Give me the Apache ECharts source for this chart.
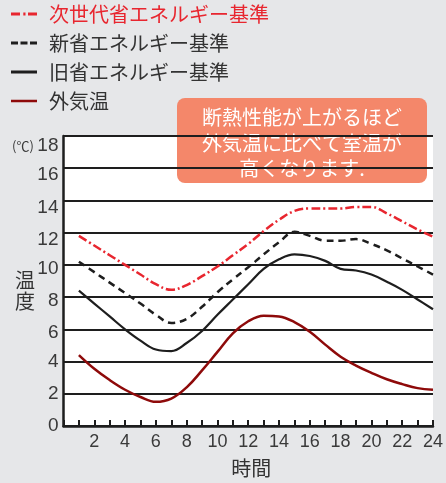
<!DOCTYPE html>
<html><head><meta charset="utf-8">
<script src="https://cdn.jsdelivr.net/npm/echarts@6/dist/echarts.min.js"></script>
<style>html,body{margin:0;padding:0;background:#e6e7e9;}#c{width:446px;height:483px;}</style>
</head><body><div id="c"></div>
<script>
const hours = [1,2,3,4,5,6,7,8,9,10,11,12,13,14,15,16,17,18,19,20,21,22,23,24];
const nextGen = [11.8,11.2,10.6,10.0,9.4,8.8,8.45,8.75,9.3,9.9,10.6,11.3,12.1,12.8,13.35,13.5,13.5,13.5,13.6,13.6,13.2,12.7,12.2,11.75];
const newStd  = [10.2,9.55,8.9,8.25,7.6,6.9,6.4,6.65,7.4,8.3,9.1,9.85,10.65,11.4,12.05,11.8,11.5,11.5,11.6,11.3,10.9,10.4,9.9,9.4];
const oldStd  = [8.4,7.6,6.8,6.0,5.3,4.75,4.65,5.15,5.9,6.9,7.85,8.8,9.75,10.35,10.65,10.55,10.25,9.75,9.65,9.4,8.95,8.45,7.85,7.25];
const outside = [4.4,3.55,2.85,2.25,1.8,1.5,1.7,2.4,3.45,4.6,5.75,6.5,6.85,6.8,6.45,5.85,5.05,4.3,3.75,3.3,2.9,2.6,2.35,2.25];
const seriesNames = ['次世代省エネルギー基準','新省エネルギー基準','旧省エネルギー基準','外気温'];
const yTicks = [0,2,4,6,8,10,12,14,16,18];
const xTicks = [2,4,6,8,10,12,14,16,18,20,22,24];
const note = ['断熱性能が上がるほど','外気温に比べて室温が','高くなります.'];

const FONT = '"Noto Sans CJK JP", "Liberation Sans", sans-serif';
const RED = '#e8262f', DARKRED = '#8e0a0a', BLK = '#1e1e1e';
const yOff = {0:0,2:0,4:0,6:3,8:4,10:4,12:7,14:7,16:7,18:10};
const rich = {};
yTicks.forEach(v => { rich['a'+v] = {fontSize:19, fontFamily:'"Liberation Sans", sans-serif', color:'#3a3a3a', padding:[2*yOff[v],0,0,0]}; });

// legend icons: 26x20 bounding box (tiny corner anchors), bar of 3px in the middle
const frame = 'M0,0h0.05v0.05h-0.05z M25.95,19.95h0.05v0.05h-0.05z ';
const iconDashDot = 'path://' + frame + 'M0,8.5h9v3h-9z M12.3,8.5h2.2v3h-2.2z M17,8.5h9v3h-9z';
const iconDash = 'path://' + frame + 'M0,8.5h7v3h-7z M9.5,8.5h7v3h-7z M19,8.5h7v3h-7z';
const iconSolid = 'path://' + frame + 'M0,8.5h26v3h-26z';
const iconSolidThin = 'path://' + frame + 'M0,8.7h26v2.6h-26z';

const toPairs = arr => hours.map((h,i)=>[h, arr[i]]);
const chart = echarts.init(document.getElementById('c'), null, {renderer:'canvas'});
chart.setOption({
  backgroundColor:'#e6e7e9',
  animation:false,
  textStyle:{fontFamily:FONT},
  legend:{
    orient:'vertical', left:11, top:4, padding:0, itemWidth:26, itemHeight:20, itemGap:9,
    textStyle:{fontSize:20, color:'#333', padding:[0,0,0,7], fontFamily:FONT, lineHeight:20},
    data:[
      {name:seriesNames[0], icon:iconDashDot, textStyle:{color:RED}},
      {name:seriesNames[1], icon:iconDash},
      {name:seriesNames[2], icon:iconSolid},
      {name:seriesNames[3], icon:iconSolidThin}
    ]
  },
  grid:{left:63.5, right:12, top:136, bottom:53.7, show:true, backgroundColor:'#ffffff', borderWidth:0, containLabel:false},
  xAxis:{
    type:'value', min:0, max:24, interval:1,
    name:'時間', nameLocation:'middle', nameGap:32,
    nameTextStyle:{fontSize:20, color:'#333', padding:[0,0,0,6], fontFamily:FONT},
    axisLine:{show:true, lineStyle:{color:BLK, width:2.5}},
    axisTick:{show:true, inside:true, length:6, lineStyle:{color:BLK, width:2}},
    axisLabel:{fontSize:18, color:'#3a3a3a', margin:7, fontFamily:'"Liberation Sans", sans-serif',
      formatter: v => xTicks.indexOf(v) >= 0 ? String(v) : ''},
    splitLine:{show:false}
  },
  yAxis:{
    type:'value', min:0, max:18, interval:2,
    axisLine:{show:true, lineStyle:{color:BLK, width:2.5}},
    axisTick:{show:false},
    axisLabel:{margin:5, rich:rich, formatter: v => '{a'+v+'|'+v+'}'},
    splitLine:{show:true, lineStyle:{color:BLK, width:2}}
  },
  graphic:[
    {type:'text', left:12, top:140, style:{text:'(℃)', fontSize:13, fill:'#3a3a3a', fontFamily:FONT}},
    {type:'text', left:15, top:270, style:{text:'温\n度', fontSize:20, lineHeight:21, fill:'#333', fontFamily:FONT}},
    {type:'group', left:177, top:98, children:[
      {type:'rect', shape:{x:0,y:0,width:250,height:85,r:8}, style:{fill:'#f4876a'}},
      {type:'text', x:125, y:7, style:{text:note.join('\n'), fontSize:20, lineHeight:25.5, fill:'#ffffff', align:'center', fontFamily:FONT}}
    ]}
  ],
  series:[
    {name:seriesNames[0], type:'line', smooth:0.4, symbol:'none', data:toPairs(nextGen),
      lineStyle:{color:RED, width:2.5, type:[9,3,2,3]}, itemStyle:{color:RED}, z:5},
    {name:seriesNames[1], type:'line', smooth:0.4, symbol:'none', data:toPairs(newStd),
      lineStyle:{color:BLK, width:2.5, type:[7,5]}, itemStyle:{color:BLK}, z:4},
    {name:seriesNames[2], type:'line', smooth:0.4, symbol:'none', data:toPairs(oldStd),
      lineStyle:{color:BLK, width:2.2, type:'solid'}, itemStyle:{color:BLK}, z:3},
    {name:seriesNames[3], type:'line', smooth:0.4, symbol:'none', data:toPairs(outside),
      lineStyle:{color:DARKRED, width:2.5, type:'solid'}, itemStyle:{color:DARKRED}, z:3}
  ]
});
</script></body></html>
